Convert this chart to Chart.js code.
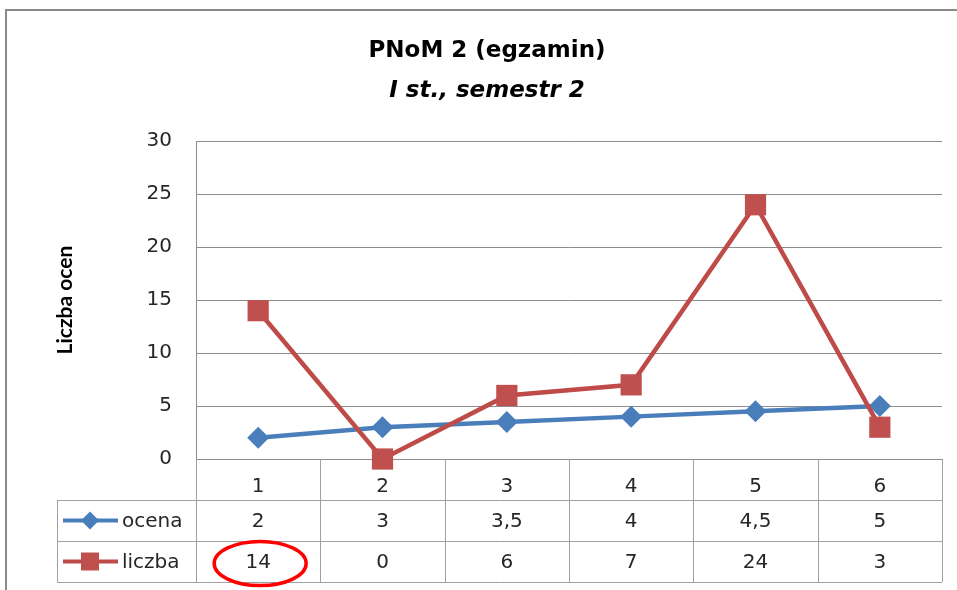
<!DOCTYPE html>
<html>
<head>
<meta charset="utf-8">
<script src="https://cdn.jsdelivr.net/npm/chart.js@4"></script>
<style>
  html, body { margin: 0; padding: 0; background: #fff; }
  #wrap { width: 957px; height: 590px; }
</style>
</head>
<body>
<div id="wrap"><canvas id="chart" width="957" height="590"></canvas></div>
<script>
const categories = ['1', '2', '3', '4', '5', '6'];
const ocena = [2, 3, 3.5, 4, 4.5, 5];
const liczba = [14, 0, 6, 7, 24, 3];
const yTicks = [0, 5, 10, 15, 20, 25, 30];

const FONT = '"DejaVu Sans", "Liberation Sans", sans-serif';
const AXIS_FONT = 'Lato, "Liberation Sans", sans-serif';
const BLUE = '#4A7EBB';
const RED = '#BE4B48';
const RED_FILL = '#C0504D';
const GRID = '#8c8c8c';
const TABLE_LINE = '#a0a0a0';
const TEXT = '#262626';

const fmt = v => String(v).replace('.', ',');

// draws the data table under the plot, the frame and the red ellipse
const dataTable = {
    id: 'dataTable',
    afterDraw(chart) {
        const ctx = chart.ctx;
        const area = chart.chartArea;
        const x = chart.scales.x;
        const band = (area.right - area.left) / categories.length;
        const rowH = 41;
        const top = area.bottom;
        const r1 = top + rowH, r2 = r1 + rowH, r3 = r2 + rowH;
        const legendLeft = 57;

        ctx.save();
        // outer chart frame
        ctx.strokeStyle = '#8a8a8a';
        ctx.lineWidth = 2;
        ctx.strokeRect(6, 10, 1000, 700);

        ctx.strokeStyle = TABLE_LINE;
        ctx.lineWidth = 1;
        ctx.beginPath();
        for (let i = 0; i <= categories.length; i++) {
            const px = Math.round(area.left + i * band) + 0.5;
            ctx.moveTo(px, top);
            ctx.lineTo(px, r3);
        }
        [r1, r2, r3].forEach(y => {
            ctx.moveTo(legendLeft, Math.round(y) + 0.5);
            ctx.lineTo(area.right, Math.round(y) + 0.5);
        });
        ctx.moveTo(legendLeft + 0.5, r1);
        ctx.lineTo(legendLeft + 0.5, r3);
        ctx.stroke();

        // values
        ctx.fillStyle = TEXT;
        ctx.font = '20px ' + FONT;
        ctx.textAlign = 'center';
        ctx.textBaseline = 'middle';
        const rows = [[ocena, (r1 + r2) / 2], [liczba, (r2 + r3) / 2]];
        rows.forEach(([vals, cy]) => {
            vals.forEach((v, i) => ctx.fillText(fmt(v), x.getPixelForValue(i), cy + 1));
        });

        // legend keys
        const keys = [
            { label: 'ocena', color: BLUE, fill: BLUE, style: 'diamond', cy: (r1 + r2) / 2 },
            { label: 'liczba', color: RED, fill: RED_FILL, style: 'square', cy: (r2 + r3) / 2 }
        ];
        keys.forEach(k => {
            ctx.strokeStyle = k.color;
            ctx.lineWidth = 4;
            ctx.beginPath();
            ctx.moveTo(63, k.cy);
            ctx.lineTo(118, k.cy);
            ctx.stroke();
            ctx.fillStyle = k.fill;
            ctx.beginPath();
            if (k.style === 'diamond') {
                ctx.moveTo(90, k.cy - 9);
                ctx.lineTo(99, k.cy);
                ctx.lineTo(90, k.cy + 9);
                ctx.lineTo(81, k.cy);
                ctx.closePath();
            } else {
                ctx.rect(81, k.cy - 9, 18, 18);
            }
            ctx.fill();
            ctx.fillStyle = TEXT;
            ctx.textAlign = 'left';
            ctx.fillText(k.label, 122, k.cy + 1);
        });

        // red ellipse around the first "liczba" value
        ctx.strokeStyle = '#FF0000';
        ctx.lineWidth = 3.5;
        ctx.beginPath();
        ctx.ellipse(x.getPixelForValue(0) + 2, (r2 + r3) / 2 + 2, 46, 22, 0, 0, Math.PI * 2);
        ctx.stroke();
        ctx.restore();
    }
};

new Chart(document.getElementById('chart').getContext('2d'), {
    type: 'line',
    data: {
        labels: categories,
        datasets: [{
            label: 'ocena',
            data: ocena,
            borderColor: BLUE,
            backgroundColor: BLUE,
            borderWidth: 4.5,
            pointStyle: 'rectRot',
            pointRadius: 11,
            pointBorderWidth: 0,
            tension: 0,
            clip: false,
            order: 1
        }, {
            label: 'liczba',
            data: liczba,
            borderColor: RED,
            backgroundColor: RED_FILL,
            borderWidth: 4.5,
            pointStyle: 'rect',
            pointRadius: 15,
            pointBorderWidth: 0,
            tension: 0,
            clip: false,
            order: 0
        }]
    },
    options: {
        responsive: false,
        animation: false,
        layout: { padding: { top: 0, left: 30, right: 13, bottom: 0 } },
        plugins: {
            legend: { display: false },
            tooltip: { enabled: false },
            title: {
                display: true,
                text: 'PNoM 2 (egzamin)',
                color: '#000',
                font: { family: FONT, size: 23, weight: 'bold' },
                padding: { top: 37, bottom: 13 }
            },
            subtitle: {
                display: true,
                text: 'I st., semestr 2',
                color: '#000',
                font: { family: FONT, size: 23, weight: 'bold', style: 'italic' },
                padding: { top: 0, bottom: 36 }
            }
        },
        scales: {
            x: {
                offset: true,
                grid: { display: false },
                border: { display: false },
                ticks: {
                    color: TEXT,
                    font: { family: FONT, size: 20 },
                    padding: 8
                },
                afterFit(scale) { scale.height = 131; }
            },
            y: {
                min: 0,
                max: 30,
                afterBuildTicks(scale) { scale.ticks = yTicks.map(v => ({ value: v })); },
                grid: { color: GRID, drawTicks: false },
                border: { color: GRID },
                ticks: {
                    color: TEXT,
                    font: { family: FONT, size: 20 },
                    padding: 24
                },
                title: {
                    display: true,
                    text: 'Liczba ocen',
                    color: '#000',
                    font: { family: AXIS_FONT, size: 21, weight: 'bold' },
                    padding: { top: 23, bottom: 0 }
                },
                afterFit(scale) { scale.width = 166; }
            }
        }
    },
    plugins: [dataTable]
});
</script>
</body>
</html>
